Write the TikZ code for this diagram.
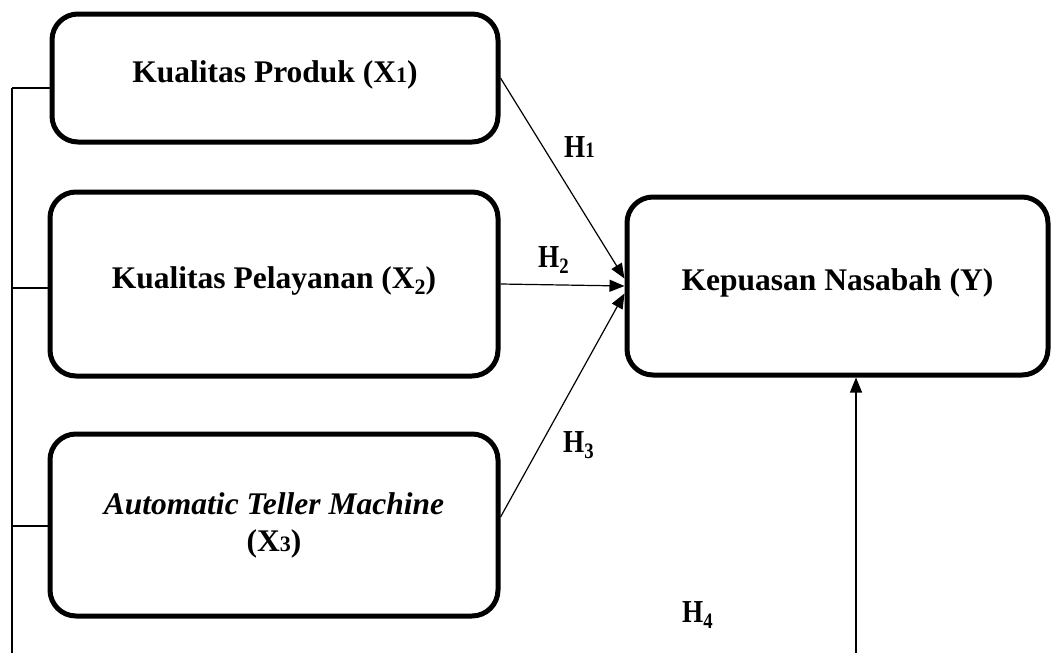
\documentclass[tikz,border=0pt]{standalone}
\usepackage{fontspec}
\setmainfont{Liberation Serif}
\usetikzlibrary{arrows.meta}
\newcommand{\lowdig}[1]{{\fontsize{22}{22}\selectfont #1}}
\newcommand{\subdig}[1]{\raisebox{-6pt}{\fontsize{22}{22}\selectfont #1}}
\newcommand{\hyp}[1]{\scalebox{0.85}[1]{\fontsize{32}{36}\selectfont\bfseries H#1}}

\begin{document}
\begin{tikzpicture}[x=1pt,y=-1pt,
  box/.style={draw,line width=5pt,rounded corners=26pt,align=center,
    font=\fontsize{31.5}{32}\selectfont\bfseries,text depth=13pt},
  link/.style={line width=1.2pt},
  arr/.style={link,-{Triangle[length=15pt,width=12pt]}}]
\useasboundingbox (0,0) rectangle (1053,653);

\node[box,minimum width=446pt,minimum height=128pt] (x1) at (275,78)
  {Kualitas Produk (X\lowdig{1})};
\node[box,minimum width=448pt,minimum height=184pt] (x2) at (274,284)
  {Kualitas Pelayanan (X\subdig{2})};
\node[box,minimum width=448pt,minimum height=182pt,text depth=5pt] (x3) at (274,525)
  {\textit{Automatic Teller Machine}\\[5pt](X\lowdig{3})};
\node[box,minimum width=421pt,minimum height=178pt] (y) at (837.5,286)
  {Kepuasan Nasabah (Y)};

\node[anchor=base west,inner sep=0pt] (h1) at (564,157) {\hyp{\lowdig{1}}};
\node[anchor=base west,inner sep=0pt] (h2) at (538,267) {\hyp{\subdig{2}}};
\node[anchor=base west,inner sep=0pt] (h3) at (563,452) {\hyp{\subdig{3}}};
\node[anchor=base west,inner sep=0pt] (h4) at (682,622) {\hyp{\subdig{4}}};

\coordinate (b1) at (12,88);
\coordinate (b2) at (12,288);
\coordinate (b3) at (12,526);
\coordinate (bb) at (12,653);
\coordinate (up) at (856,653);

\draw[link] (b1) -- (bb)
  (b1) -- (b1 -| x1.west)
  (b2) -- (b2 -| x2.west)
  (b3) -- (b3 -| x3.west);

\draw[arr] (x1.east) -- (y.178);
\draw[arr] (x2.east) -- (y.west);
\draw[arr] (x3.2) -- (y.182);
\draw[arr] (up) -- (up |- y.south);

\end{tikzpicture}
\end{document}
